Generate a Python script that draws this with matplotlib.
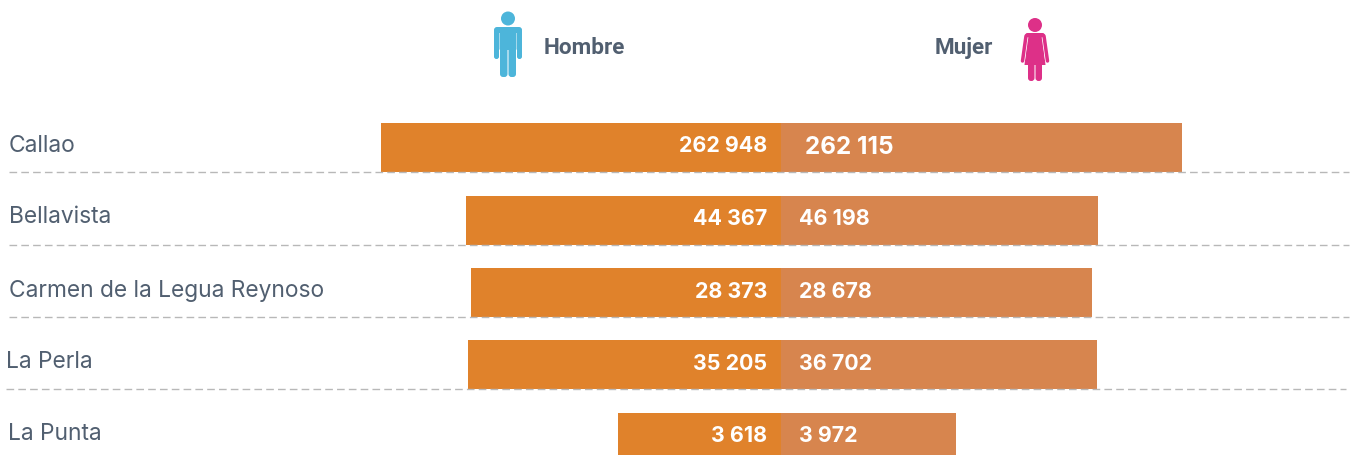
import matplotlib
matplotlib.use("Agg")
import matplotlib.pyplot as plt
from matplotlib.patches import Circle, FancyBboxPatch, Polygon

# data
distritos = ["Callao", "Bellavista", "Carmen de la Legua Reynoso", "La Perla", "La Punta"]
hombres = [262948, 44367, 28373, 35205, 3618]
mujeres = [262115, 46198, 28678, 36702, 3972]
# the bars in the picture are not proportional to the numbers, so lengths are read separately
largo_hombres = [400, 315, 310, 313, 163]
largo_mujeres = [401, 317, 311, 316, 175]

GRIS = "#515F70"
NARANJA = "#E0822B"
SALMON = "#D7854E"

plt.rcParams["font.family"] = ["Inter", "DejaVu Sans"]

fig = plt.figure(figsize=(13.54, 4.55), dpi=100)
ax = fig.add_axes([0, 0, 1, 1])
ax.set_xlim(0, 1354)
ax.set_ylim(455, 0)
ax.axis("off")

# layout in pixels
centro = 781
filas = [147.5, 220.5, 292.5, 364.5, 437.5]
alto = 49
y_etiqueta = [145.5, 217, 290.5, 362.5, 434.5]
x_etiqueta = [9, 9, 9, 6.5, 8.5]
y_valor = [145.5, 219, 292, 363.5, 436]
lineas = [(172, 9, 1349), (245, 9, 1349), (317, 9, 1349), (389, 6, 1346)]


def fmt(v):
    return f"{v:,}".replace(",", " ")


ax.barh(filas, [-v for v in largo_hombres], height=alto, left=centro, color=NARANJA, linewidth=0)
ax.barh(filas, largo_mujeres, height=alto, left=centro, color=SALMON, linewidth=0)

for y, x0, x1 in lineas:
    ax.plot([x0, x1], [y, y], color="#B8B8B8", lw=1, dashes=(5.5, 3), zorder=3)

for i, nombre in enumerate(distritos):
    ax.text(x_etiqueta[i], y_etiqueta[i], nombre, fontsize=16.4, color=GRIS, va="center", ha="left")
    ax.text(767, y_valor[i], fmt(hombres[i]), fontsize=15.4, fontweight="bold", color="white",
            va="center", ha="right")
    # Callao mujeres is larger and further in on the original
    x_m = 805 if i == 0 else 799
    y_m = 147 if i == 0 else y_valor[i]
    fs_m = 17.5 if i == 0 else 15.4
    ax.text(x_m, y_m, fmt(mujeres[i]), fontsize=fs_m, fontweight="bold", color="white",
            va="center", ha="left")

ax.text(544, 48, "Hombre", fontsize=16.2, fontweight="bold", color=GRIS, va="center", ha="left",
        family=["Roboto", "DejaVu Sans"])
ax.text(993, 48, "Mujer", fontsize=16.2, fontweight="bold", color=GRIS, va="center", ha="right",
        family=["Roboto", "DejaVu Sans"])


def caja(x0, y0, x1, y1, color, r=2.0):
    ax.add_patch(FancyBboxPatch((x0 + r, y0 + r), x1 - x0 - 2 * r, y1 - y0 - 2 * r,
                                boxstyle=f"round,pad={r},rounding_size={r}",
                                fc=color, ec="none", zorder=4))


# man icon
AZUL = "#4DB5DA"
ax.add_patch(Circle((508, 18.5), 7, fc=AZUL, ec="none", zorder=4))
caja(499.5, 27, 516.5, 50, AZUL, 1)
caja(494, 27, 510, 33, AZUL, 3)
caja(506, 27, 522, 33, AZUL, 3)
caja(494, 29, 499, 59, AZUL, 2.4)
caja(517, 29, 522, 59, AZUL, 2.4)
caja(500, 45, 507.5, 77, AZUL, 3)
caja(508.5, 45, 516, 77, AZUL, 3)

# woman icon
ROSA = "#DD3088"
ax.add_patch(Circle((1035, 25), 7, fc=ROSA, ec="none", zorder=4))
ax.add_patch(Polygon([(1028, 33), (1042, 33), (1045.5, 65), (1024.5, 65)], fc=ROSA, ec="none", zorder=4))
for x_a, x_b in [(1026, 1022.5), (1044, 1047.5)]:
    ax.plot([x_a, x_b], [37, 61], color="white", lw=3.4, solid_capstyle="butt", zorder=4.5)
    ax.plot([x_a, x_b], [36, 61], color=ROSA, lw=2.5, solid_capstyle="round", zorder=5)
caja(1025, 33, 1045, 38, ROSA, 2.5)
caja(1028, 62, 1034.5, 81, ROSA, 3)
caja(1035.5, 62, 1042, 81, ROSA, 3)

fig.savefig("out.png", dpi=100)
